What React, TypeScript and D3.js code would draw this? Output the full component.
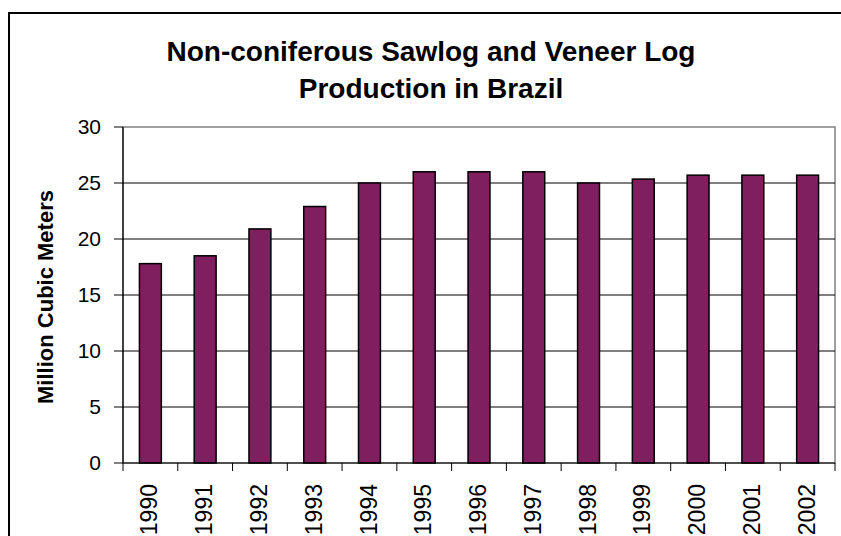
import React from "react";
import * as d3 from "d3";

const years = ["1990","1991","1992","1993","1994","1995","1996","1997","1998","1999","2000","2001","2002"];
const production = [17.8, 18.5, 20.9, 22.9, 25.0, 26.0, 26.0, 26.0, 25.0, 25.35, 25.7, 25.7, 25.7];
const yTicks = [0, 5, 10, 15, 20, 25, 30];
const titleLines = ["Non-coniferous Sawlog and Veneer Log", "Production in Brazil"];
const yTitle = "Million Cubic Meters";

export default function App() {
  const W = 841, H = 536;
  const left = 123, right = 835, top = 127, bottom = 463;
  const x = d3.scaleBand<string>().domain(years).range([left, right]).paddingInner(0.6).paddingOuter(0.3);
  const xb = d3.scaleBand<string>().domain(years).range([left, right]);
  const y = d3.scaleLinear().domain([0, 30]).range([bottom, top]);
  const font = "Arial, 'Liberation Sans', sans-serif";
  return (
    <svg width={W} height={H} style={{ position: "absolute", left: 0, top: 0 }} fontFamily={font}>
      <rect x={0} y={0} width={W} height={H} fill="#fff" />
      <rect x={9} y={13} width={860} height={600} fill="#fff" stroke="#000" strokeWidth={2} />
      {titleLines.map((t, i) => (
        <text key={i} x={431} y={61 + i * 37} textAnchor="middle" fontSize={28} fontWeight="bold">{t}</text>
      ))}
      <rect x={left} y={top} width={right - left} height={bottom - top} fill="#fff" stroke="#808080" strokeWidth={1.5} />
      {yTicks.map((t) => (
        <g key={t}>
          {t > 0 && t < 30 && <line x1={left} x2={right} y1={y(t)} y2={y(t)} stroke="#000" strokeWidth={1} />}
          <line x1={left - 9} x2={left} y1={y(t)} y2={y(t)} stroke="#000" strokeWidth={1} />
          <text x={left - 22} y={y(t)} dy="0.35em" textAnchor="end" fontSize={21}>{t}</text>
        </g>
      ))}
      {years.map((yr, i) => (
        <rect key={yr} x={x(yr)} y={y(production[i])} width={x.bandwidth()} height={bottom - y(production[i])}
          fill="#7f1f5f" stroke="#000" strokeWidth={1.5} />
      ))}
      <line x1={left} x2={left} y1={top} y2={bottom} stroke="#000" strokeWidth={1.2} />
      <line x1={left} x2={right} y1={bottom} y2={bottom} stroke="#000" strokeWidth={1.2} />
      {[...years.map((yr) => xb(yr) as number), right].map((px, i) => (
        <line key={i} x1={px} x2={px} y1={bottom} y2={bottom + 8} stroke="#000" strokeWidth={1} />
      ))}
      {years.map((yr) => {
        const cx = (xb(yr) as number) + xb.bandwidth() / 2;
        return (
          <text key={yr} transform={`translate(${cx - 1},${bottom + 21}) rotate(-90)`} textAnchor="end" dy="0.35em" fontSize={23}>{yr}</text>
        );
      })}
      <text transform={`translate(53,297) rotate(-90)`} textAnchor="middle" fontSize={22} fontWeight="bold">{yTitle}</text>
    </svg>
  );
}
